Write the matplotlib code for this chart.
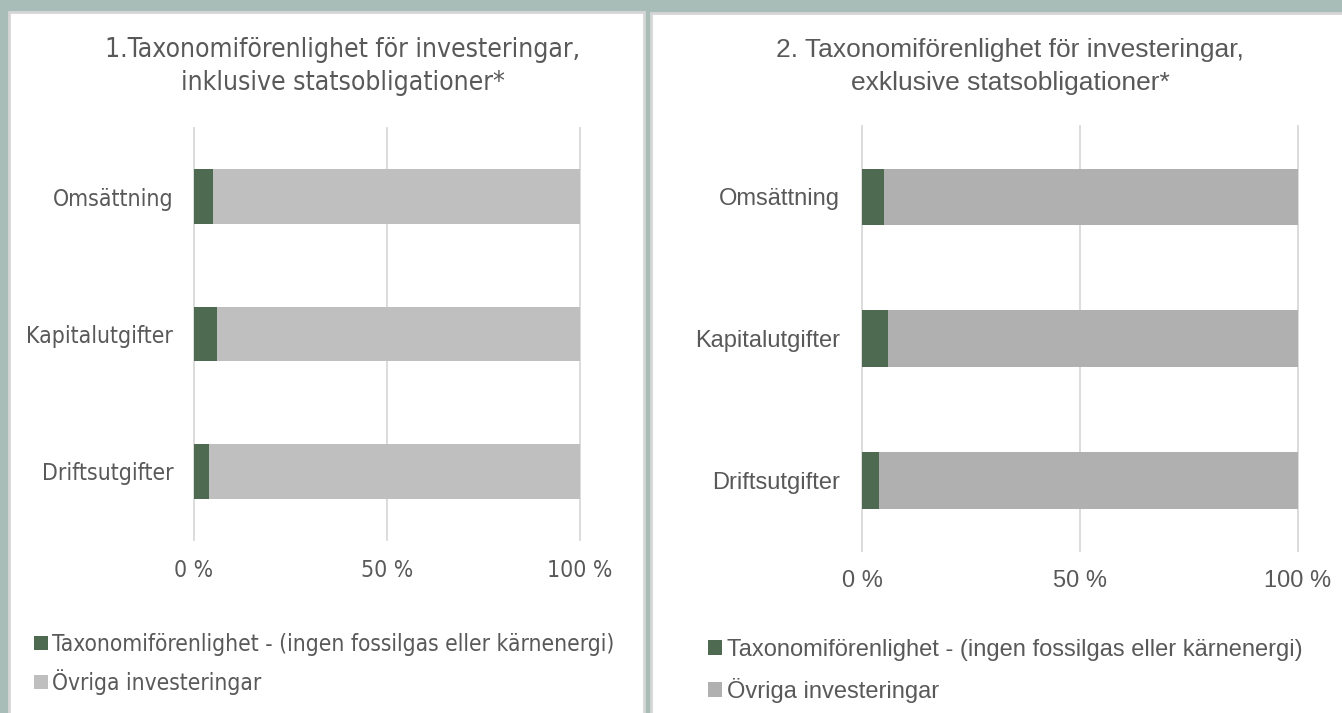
import matplotlib
matplotlib.use("Agg")
import matplotlib.pyplot as plt
from matplotlib import font_manager
from matplotlib.patches import Rectangle

# data
categories = ["Omsättning", "Kapitalutgifter", "Driftsutgifter"]
aligned_incl = [5, 6, 4]
aligned_excl = [5, 6, 4]
ticks = [0, 50, 100]
tick_labels = ["0 %", "50 %", "100 %"]
series_names = ["Taxonomiförenlighet - (ingen fossilgas eller kärnenergi)",
                "Övriga investeringar"]
title1 = ["1.Taxonomiförenlighet för investeringar,", "inklusive statsobligationer*"]
title2 = ["2. Taxonomiförenlighet för investeringar,", "exklusive statsobligationer*"]

GREEN = "#4e6a51"
TEXT = "#595959"
GRID = "#d9d9d9"
BG = "#a8bcb8"

names = {f.name for f in font_manager.fontManager.ttflist}
if "Liberation Sans Narrow" in names:
    NARROW = dict(family="Liberation Sans Narrow")
else:
    NARROW = dict(family="DejaVu Sans", stretch="condensed")
ARIAL = dict(family="Liberation Sans")

W, H = 1342, 713
fig = plt.figure(figsize=(W / 100, H / 100), dpi=100)
fig.patch.set_facecolor(BG)

def px(x0, y0, x1, y1):
    # pixel box (top-left origin) -> figure fraction rect
    return [x0 / W, 1 - y1 / H, (x1 - x0) / W, (y1 - y0) / H]

# white panels
for box in [(9, 12, 644, 720), (651, 13, 1350, 720)]:
    r = px(*box)
    fig.patches.append(Rectangle((r[0], r[1]), r[2], r[3], transform=fig.transFigure,
                                 facecolor="white", edgecolor="#d6d6d6", linewidth=2,
                                 zorder=-5))

def panel(rect, green, gray, font, title, tcx, tsize, lsize, legsize, ypad, xpad,
          leg_anchor, legspacing):
    ax = fig.add_axes(rect)
    other = [100 - g for g in green]
    y = list(range(len(categories)))
    b1 = ax.barh(y, green, height=0.4, color=GREEN, label=series_names[0])
    b2 = ax.barh(y, other, left=green, height=0.4, color=gray, label=series_names[1])
    ax.set_ylim(2.5, -0.5)
    ax.set_xlim(0, 100)
    ax.set_yticks(y)
    ax.set_yticklabels(categories, fontsize=lsize, color=TEXT, **font)
    ax.set_xticks(ticks)
    ax.set_xticklabels(tick_labels, fontsize=lsize, color=TEXT, **font)
    ax.tick_params(axis="y", length=0, pad=ypad)
    ax.tick_params(axis="x", length=0, pad=xpad)
    for s in ax.spines.values():
        s.set_visible(False)
    ax.set_axisbelow(True)
    ax.grid(axis="x", color=GRID, linewidth=1.3)
    for gl in ax.get_xgridlines():
        gl.set_clip_on(False)
    ax.set_facecolor("none")
    # two-line title
    fig.text(tcx / W, 1 - 57 / H, title[0], ha="center", va="baseline",
             fontsize=tsize, color=TEXT, **font)
    fig.text(tcx / W, 1 - 90 / H, title[1], ha="center", va="baseline",
             fontsize=tsize, color=TEXT, **font)
    ax.legend(handles=[b1, b2], loc="upper left", bbox_to_anchor=leg_anchor,
              bbox_transform=fig.transFigure, frameon=False, borderpad=0,
              handlelength=0.6, handleheight=0.6, handletextpad=0.2,
              labelspacing=legspacing, borderaxespad=0,
              prop=dict(size=legsize, **font), labelcolor=TEXT)
    return ax

panel(px(194, 128, 580, 540), aligned_incl, "#bfbfbf", NARROW, title1, 343,
      19, 16.5, 16.3, 15, 14, (34 / W, 1 - 633 / H), 0.57)
panel(px(862, 126, 1298, 551), aligned_excl, "#b0b0b0", ARIAL, title2, 1010,
      19, 17, 17, 16, 14, (708 / W, 1 - 639 / H), 0.73)

fig.savefig("out.png", dpi=100, facecolor=BG)
